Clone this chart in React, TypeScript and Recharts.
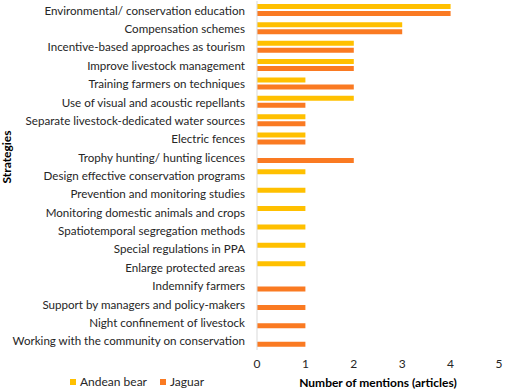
import { Bar, BarChart, Label, XAxis, YAxis } from "recharts";

const strategies = [
  "Environmental/ conservation education",
  "Compensation schemes",
  "Incentive-based approaches as tourism",
  "Improve livestock management",
  "Training farmers on techniques",
  "Use of visual and acoustic repellants",
  "Separate livestock-dedicated water sources",
  "Electric fences",
  "Trophy hunting/ hunting licences",
  "Design effective conservation programs",
  "Prevention and monitoring studies",
  "Monitoring domestic animals and crops",
  "Spatiotemporal segregation methods",
  "Special regulations in PPA",
  "Enlarge protected areas",
  "Indemnify farmers",
  "Support by managers and policy-makers",
  "Night confinement of livestock",
  "Working with the community on conservation",
];

const andeanBear = [4, 3, 2, 2, 1, 2, 1, 1, 0, 1, 1, 1, 1, 1, 1, 0, 0, 0, 0];
const jaguar = [4, 3, 2, 2, 2, 1, 1, 1, 2, 0, 0, 0, 0, 0, 0, 1, 1, 1, 1];

const xTicks = [0, 1, 2, 3, 4, 5];

const YELLOW = "#FFC000";
const ORANGE = "#FA7A22";
const TEXT = "#262626";
const FONT = "Lato, 'Open Sans', sans-serif";
const FS = 11.6;

const data = strategies.map((name, i) => ({
  name,
  bear: andeanBear[i],
  jaguar: jaguar[i],
}));

function StrategyTick(props: any) {
  const { x, y, payload } = props;
  return (
    <text
      x={x}
      y={y}
      textAnchor="end"
      dominantBaseline="central"
      fill={TEXT}
      fontSize={FS}
      fontFamily={FONT}
    >
      {payload.value}
    </text>
  );
}

export default function App() {
  return (
    <div
      style={{
        position: "absolute",
        left: 0,
        top: 0,
        width: 515,
        height: 392,
        background: "#fff",
        fontFamily: FONT,
      }}
    >
      <BarChart
        width={515}
        height={392}
        data={data}
        layout="vertical"
        margin={{ top: 1, right: 16, bottom: 12, left: 0 }}
        barSize={5}
        barGap={2}
      >
        <XAxis
          type="number"
          domain={[0, 5]}
          ticks={xTicks}
          axisLine={false}
          tickLine={false}
          tickSize={6}
          tickMargin={3}
          height={30}
          tick={{ fill: TEXT, fontSize: 12, fontFamily: FONT }}
        >
          <Label
            content={() => (
              <text
                x={378}
                y={387}
                textAnchor="middle"
                fill="#000"
                fontSize={12}
                fontWeight="bold"
                fontFamily={FONT}
              >
                Number of mentions (articles)
              </text>
            )}
          />
        </XAxis>
        <YAxis
          type="category"
          dataKey="name"
          width={257}
          interval={0}
          tickLine={false}
          tickSize={6}
          tickMargin={6}
          axisLine={{ stroke: "#D9D9D9" }}
          tick={<StrategyTick />}
        >
          <Label
            content={() => (
              <text
                x={11}
                y={157}
                textAnchor="middle"
                transform="rotate(-90 11 157)"
                fill="#000"
                fontSize={12}
                fontWeight="bold"
                fontFamily={FONT}
              >
                Strategies
              </text>
            )}
          />
        </YAxis>
        <Bar dataKey="bear" name="Andean bear" fill={YELLOW} isAnimationActive={false} />
        <Bar dataKey="jaguar" name="Jaguar" fill={ORANGE} isAnimationActive={false} />
      </BarChart>
      <div
        style={{
          position: "absolute",
          left: 70,
          top: 374,
          display: "flex",
          alignItems: "center",
          fontSize: 12,
          color: TEXT,
          lineHeight: "16px",
        }}
      >
        <span style={{ width: 6, height: 6, background: YELLOW, marginRight: 4 }} />
        <span style={{ marginRight: 13 }}>Andean bear</span>
        <span style={{ width: 6, height: 6, background: ORANGE, marginRight: 4 }} />
        <span>Jaguar</span>
      </div>
    </div>
  );
}
